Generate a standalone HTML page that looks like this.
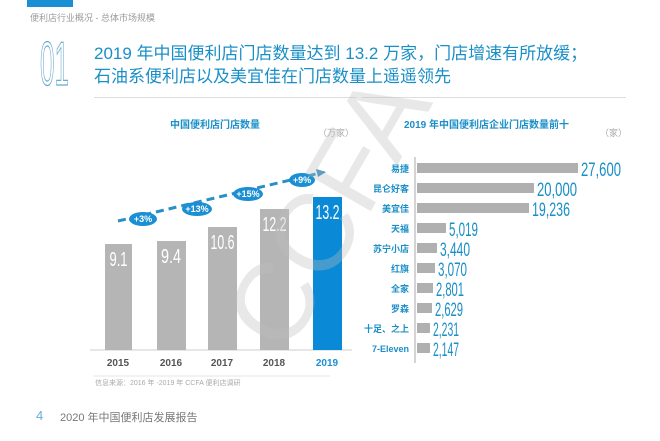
<!DOCTYPE html>
<html><head><meta charset="utf-8"><style>
body{margin:0;width:660px;height:441px;background:#fff;position:relative;overflow:hidden;font-family:"Liberation Sans","Noto Sans CJK SC",sans-serif}
.a{position:absolute;white-space:nowrap}
</style></head><body>
<div class="a" style="left:27px;top:0;width:46px;height:7px;background:#1a8fd3"></div>
<div class="a" style="left:30px;top:11px;font-size:9px;color:#9a9a9a">便利店行业概况 - 总体市场规模</div>
<div class="a" style="left:94px;top:42px;font-size:17px;color:#1a8fc7;line-height:23px">2019 年中国便利店门店数量达到 13.2 万家，门店增速有所放缓；<br>石油系便利店以及美宜佳在门店数量上遥遥领先</div>
<div class="a" style="left:94px;top:97px;width:262px;height:1px;background:#ddd"></div>
<div class="a" style="left:362px;top:97px;width:264px;height:1px;background:#ddd"></div>
<div class="a" style="left:170px;top:116px;font-size:10px;font-weight:bold;color:#1a8fc7">中国便利店门店数量</div>
<div class="a" style="left:318px;top:126px;font-size:9px;color:#aaa">（万家）</div>
<div class="a" style="left:404px;top:116px;font-size:10px;font-weight:bold;color:#1a8fc7">2019 年中国便利店企业门店数量前十</div>
<div class="a" style="left:600px;top:126px;font-size:9px;color:#aaa">（家）</div>
<svg class="a" style="left:0;top:0" width="660" height="441">
<g transform="translate(40,85) scale(0.65,1.55)"><text x="0" y="0" font-size="40" fill="none" stroke="#6aaacc" stroke-width="0.8" font-family="Liberation Sans Narrow,Liberation Sans,sans-serif">01</text></g>
<line x1="90" y1="350" x2="352" y2="350" stroke="#ccc"/>
<g fill="#b5b5b5"><rect x="105" y="244" width="27" height="106"/><rect x="157" y="241" width="29" height="109"/><rect x="208" y="227" width="29" height="123"/><rect x="260" y="209" width="29" height="141"/></g>
<rect x="313" y="197" width="29" height="153" fill="#0a8ad6"/>
<g font-family="Liberation Sans Narrow,Liberation Sans,sans-serif" fill="#fff" font-size="20" text-anchor="middle"><text x="118.5" y="266" textLength="18" lengthAdjust="spacingAndGlyphs">9.1</text><text x="171" y="263" textLength="20" lengthAdjust="spacingAndGlyphs">9.4</text><text x="222.5" y="249" textLength="24" lengthAdjust="spacingAndGlyphs">10.6</text><text x="274.5" y="231" textLength="24" lengthAdjust="spacingAndGlyphs">12.2</text><text x="327.5" y="219" textLength="24" lengthAdjust="spacingAndGlyphs">13.2</text></g>
<g font-size="10" font-weight="bold" text-anchor="middle" fill="#555"><text x="118" y="366">2015</text><text x="171" y="366">2016</text><text x="222" y="366">2017</text><text x="274" y="366">2018</text><text x="327" y="366" fill="#1a8fd3">2019</text></g>
<line x1="118" y1="221" x2="320" y2="173" stroke="#2a8fc4" stroke-width="3" stroke-dasharray="8,5"/>
<polygon points="326,172 316,169 318,177" fill="#2a8fc4"/>
<g fill="#1a8fd3"><ellipse cx="143" cy="219" rx="14" ry="7"/><ellipse cx="197" cy="209" rx="15" ry="7"/><ellipse cx="248" cy="194" rx="15" ry="7"/><ellipse cx="302" cy="180" rx="13" ry="7"/></g>
<g fill="#fff" font-size="9" font-weight="bold" text-anchor="middle"><text x="143" y="222">+3%</text><text x="197" y="212">+13%</text><text x="248" y="197">+15%</text><text x="302" y="183">+9%</text></g>
<line x1="415" y1="157" x2="415" y2="363" stroke="#aaa"/>
<g fill="#b0b0b0">
<rect x="417" y="163" width="161" height="10"/><rect x="417" y="183" width="117" height="10"/><rect x="417" y="203" width="112" height="10"/><rect x="417" y="223" width="29" height="10"/><rect x="417" y="243" width="20" height="10"/><rect x="417" y="263" width="18" height="10"/><rect x="417" y="283" width="16" height="10"/><rect x="417" y="303" width="15" height="10"/><rect x="417" y="323" width="13" height="10"/><rect x="417" y="343" width="13" height="10"/></g>
<g fill="#1a8fc7" font-size="9" font-weight="bold" text-anchor="end"><text x="409" y="172">易捷</text><text x="409" y="192">昆仑好客</text><text x="409" y="212">美宜佳</text><text x="409" y="232">天福</text><text x="409" y="252">苏宁小店</text><text x="409" y="272">红旗</text><text x="409" y="292">全家</text><text x="409" y="312">罗森</text><text x="409" y="332">十足、之上</text><text x="409" y="352">7-Eleven</text></g>
<g fill="#1a8fc7" font-size="19" font-family="Liberation Sans Narrow,Liberation Sans,sans-serif"><text x="581" y="176" textLength="40" lengthAdjust="spacingAndGlyphs">27,600</text><text x="537" y="196" textLength="40" lengthAdjust="spacingAndGlyphs">20,000</text><text x="532" y="216" textLength="38" lengthAdjust="spacingAndGlyphs">19,236</text><text x="449" y="236" textLength="29" lengthAdjust="spacingAndGlyphs">5,019</text><text x="440" y="256" textLength="30" lengthAdjust="spacingAndGlyphs">3,440</text><text x="438" y="276" textLength="29" lengthAdjust="spacingAndGlyphs">3,070</text><text x="436" y="296" textLength="28" lengthAdjust="spacingAndGlyphs">2,801</text><text x="435" y="316" textLength="28" lengthAdjust="spacingAndGlyphs">2,629</text><text x="433" y="336" textLength="26" lengthAdjust="spacingAndGlyphs">2,231</text><text x="433" y="356" textLength="26" lengthAdjust="spacingAndGlyphs">2,147</text></g>
<g transform="translate(335,215) rotate(-60)"><text x="0" y="0" text-anchor="middle" dominant-baseline="middle" font-size="110" fill="rgba(190,190,190,0.35)" font-family="Liberation Sans Narrow,Liberation Sans,sans-serif">CCFA</text></g>
<line x1="93" y1="376" x2="330" y2="376" stroke="#e5e5e5"/>
</svg>
<div class="a" style="left:95px;top:378px;font-size:7px;color:#aaa">信息来源：2016 年 -2019 年 CCFA 便利店调研</div>
<div class="a" style="left:36px;top:408px;font-size:13px;color:#6aaed4">4</div>
<div class="a" style="left:60px;top:409px;font-size:11px;color:#777">2020 年中国便利店发展报告</div>
</body></html>
